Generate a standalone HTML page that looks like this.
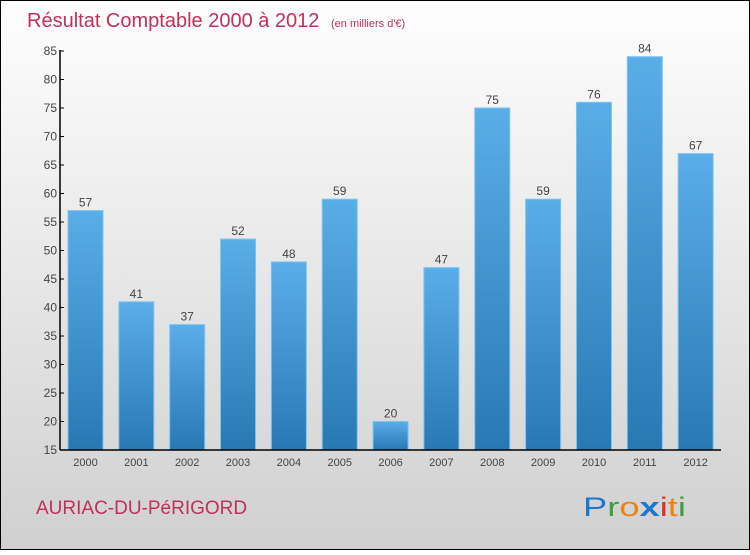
<!DOCTYPE html>
<html><head><meta charset="utf-8"><style>
body{margin:0}
svg text{font-family:"Liberation Sans","DejaVu Sans",sans-serif}
</style></head><body>
<svg width="750" height="550" viewBox="0 0 750 550">
<defs>
<linearGradient id="bg" x1="0" y1="0" x2="0" y2="1"><stop offset="0" stop-color="#fefefe"/><stop offset="1" stop-color="#d0d0d0"/></linearGradient>
<linearGradient id="bar" x1="0" y1="0" x2="0" y2="1"><stop offset="0" stop-color="#5aaee8"/><stop offset="1" stop-color="#2878b4"/></linearGradient>
</defs>
<rect x="0.5" y="0.5" width="749" height="549" fill="url(#bg)" stroke="#000"/>
<text x="27" y="27" font-size="20" fill="#c0305a">Résultat Comptable 2000 à 2012 <tspan font-size="11" dx="6">(en milliers d'€)</tspan></text>
<g id="plot"></g>
<text x="36" y="514" font-size="19" fill="#c0305a">AURIAC-DU-PéRIGORD</text>
<text x="583" y="516" font-size="27" textLength="103" lengthAdjust="spacingAndGlyphs"><tspan fill="#1a78d0">P</tspan><tspan fill="#3aa040">r</tspan><tspan fill="#f08010">o</tspan><tspan fill="#1a78d0" font-weight="bold">x</tspan><tspan fill="#e03020">i</tspan><tspan fill="#f08010">t</tspan><tspan fill="#3aa040">i</tspan></text>
</svg>
<script>
const years=["2000","2001","2002","2003","2004","2005","2006","2007","2008","2009","2010","2011","2012"];
const values=[57,41,37,52,48,59,20,47,75,59,76,84,67];
const yTicks=[15,20,25,30,35,40,45,50,55,60,65,70,75,80,85];
const NS="http://www.w3.org/2000/svg";
const g=document.getElementById('plot');
const x0=60,x1=721,yMin=15,yMax=85,yb=450,yt=51;
const y=v=>yb-(v-yMin)*(yb-yt)/(yMax-yMin);
const slot=(x1-x0)/years.length;
function el(t,a,txt){const e=document.createElementNS(NS,t);for(const k in a)e.setAttribute(k,a[k]);if(txt!=null)e.textContent=txt;g.appendChild(e);return e;}
years.forEach((yr,i)=>{
 const bx=x0+i*slot+8, v=values[i];
 const r=el('rect',{x:bx,y:y(v),width:35,height:yb-y(v),fill:'url(#bar)',stroke:'#7cc4f0','stroke-width':1});
 
 
 const t=el('text',{x:bx+17.5,y:y(v)-4,'font-size':12,fill:'#444','text-anchor':'middle'},v);
 
 
 const xl=el('text',{x:bx+17.5,y:466,'font-size':11,fill:'#444','text-anchor':'middle'},yr);
 
 
});
yTicks.forEach(v=>{
 const tk=el('line',{x1:x0,x2:x0+4,y1:y(v),y2:y(v),stroke:'#000'});
 
 
 const t=el('text',{x:x0-3,y:y(v)+4,'font-size':12,fill:'#444','text-anchor':'end'},v);
 
 
});
const ya=el('line',{x1:x0,x2:x0,y1:yt-1,y2:yb,stroke:'#000','stroke-width':1.5});


const xa=el('line',{x1:x0,x2:x1,y1:yb,y2:yb,stroke:'#000','stroke-width':1.5});


</script>
</body></html>
